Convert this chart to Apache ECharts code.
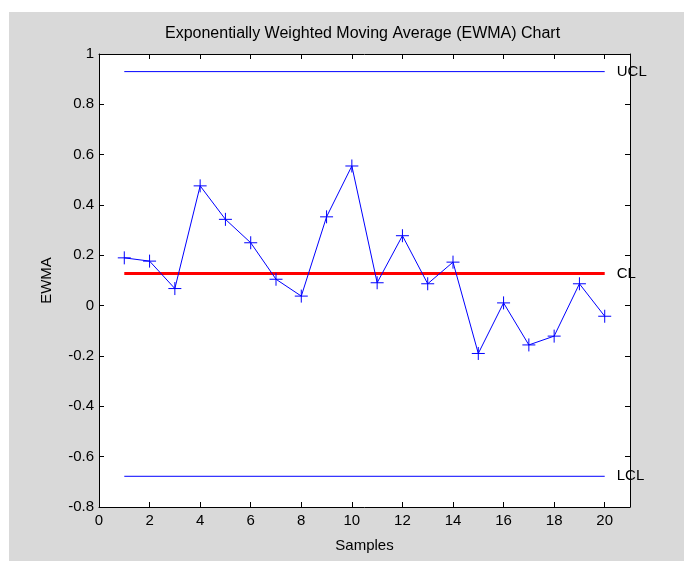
<!DOCTYPE html>
<html>
<head>
<meta charset="utf-8">
<script src="https://cdn.jsdelivr.net/npm/echarts@6/dist/echarts.min.js"></script>
<style>
html,body{margin:0;padding:0;background:#fff;}
#chart{width:684px;height:561px;}
</style>
</head>
<body>
<div id="chart"></div>
<script>
var samples = [1,2,3,4,5,6,7,8,9,10,11,12,13,14,15,16,17,18,19,20];
var ewma = [0.190,0.177,0.068,0.476,0.343,0.250,0.105,0.038,0.353,0.555,0.091,0.278,0.087,0.173,-0.190,0.011,-0.156,-0.121,0.087,-0.042];
var ucl = 0.930;
var cl = 0.128;
var lcl = -0.678;
var limitNames = ['UCL','CL','LCL'];

var chart = echarts.init(document.getElementById('chart'), null, {renderer:'canvas'});
var font = 'Liberation Sans, Arial, sans-serif';
function limitSeries(name, v, color, width) {
  return {
    name: name, type: 'line', data: [[samples[0], v],[samples[samples.length-1], v]],
    symbol: 'none', lineStyle: {color: color, width: width}, silent: true,
    endLabel: {show: true, formatter: name, color: '#000', fontSize: 15, fontFamily: font, distance: 12}
  };
}
var axisCommon = {
  axisLine: {show: true, onZero: false, lineStyle: {color: '#000', width: 1}},
  axisTick: {show: true, inside: true, length: 5, lineStyle: {color: '#000'}},
  splitLine: {show: false}
};
var option = {
  animation: false,
  backgroundColor: '#d9d9d9',
  graphic: [
    {type: 'rect', left: 0, top: 0, shape: {width: 684, height: 12}, style: {fill: '#fff'}, silent: true},
    {type: 'rect', left: 0, top: 0, shape: {width: 9, height: 561}, style: {fill: '#fff'}, silent: true}
  ],
  title: {
    text: 'Exponentially Weighted Moving Average (EWMA) Chart',
    left: 160, top: 21,
    textStyle: {fontSize: 16, fontWeight: 'normal', color: '#000', fontFamily: font}
  },
  grid: {left: 99, top: 54, right: 54, bottom: 54, show: true, backgroundColor: '#fff', borderWidth: 0},
  xAxis: [
    Object.assign({}, axisCommon, {
      type: 'value', position: 'bottom', min: 0, max: 21, interval: 2,
      name: 'Samples', nameLocation: 'middle', nameGap: 31,
      nameTextStyle: {fontSize: 15, color: '#000', fontFamily: font},
      axisLabel: {color: '#000', fontSize: 15, fontFamily: font, margin: 6, showMaxLabel: false,
        formatter: function(v){ return v > 20 ? '' : String(v); }}
    }),
    Object.assign({}, axisCommon, {
      type: 'value', position: 'top', min: 0, max: 21, interval: 2,
      axisLabel: {show: false}
    })
  ],
  yAxis: [
    Object.assign({}, axisCommon, {
      type: 'value', position: 'left', min: -0.8, max: 1, interval: 0.2,
      name: 'EWMA', nameLocation: 'middle', nameGap: 45, nameRotate: 90,
      nameTextStyle: {fontSize: 15, color: '#000', fontFamily: font},
      axisLabel: {color: '#000', fontSize: 15, fontFamily: font, margin: 5,
        formatter: function(v){ return String(Math.round(v*10)/10); }}
    }),
    Object.assign({}, axisCommon, {
      type: 'value', position: 'right', min: -0.8, max: 1, interval: 0.2,
      axisLabel: {show: false}
    })
  ],
  series: [
    limitSeries(limitNames[0], ucl, '#0000ff', 1),
    limitSeries(limitNames[1], cl, '#ff0000', 3),
    limitSeries(limitNames[2], lcl, '#0000ff', 1),
    {
      name: 'EWMA', type: 'line',
      data: samples.map(function(s, i){ return [s, ewma[i]]; }),
      lineStyle: {color: '#0000ff', width: 1},
      symbol: 'path://M0,-1L0,1M-1,0L1,0', symbolSize: 13,
      itemStyle: {color: 'none', borderColor: '#0000ff', borderWidth: 1},
      z: 5
    }
  ]
};
chart.setOption(option);
</script>
</body>
</html>
